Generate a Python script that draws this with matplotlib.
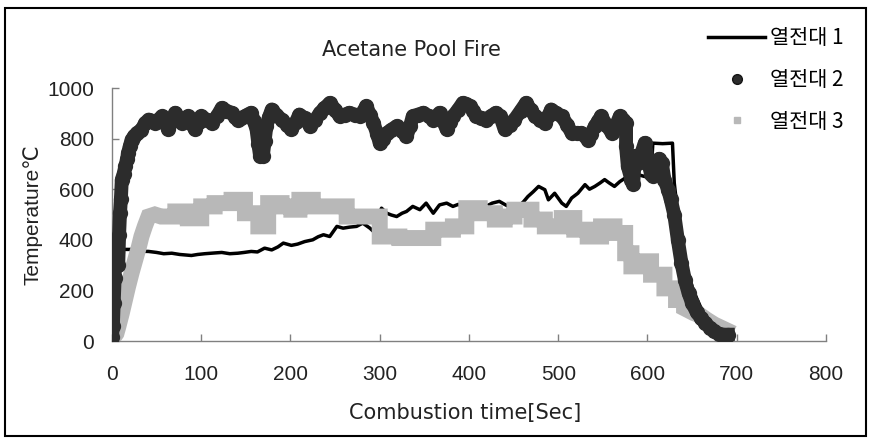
#!/usr/bin/env python3

import matplotlib
matplotlib.use('Agg')
import matplotlib.pyplot as plt
from matplotlib.lines import Line2D
from matplotlib.patches import Rectangle
from matplotlib.font_manager import FontProperties


# 열전대 1 (solid black line)
t1 = [0, 0.5, 7, 7.5, 22, 30, 41, 50, 58, 67, 76, 89, 96, 104, 115, 123, 132, 141, 148, 156,
      163, 171, 179, 186, 192, 201, 208, 216, 225, 231, 237, 244, 252, 259, 266, 274, 281, 289,
      293, 297, 302, 308, 313, 319, 325, 330, 337, 345, 352, 360, 367, 375, 382, 388, 396, 405,
      412, 419, 426, 434, 440, 448, 455, 461, 466, 472, 478, 485, 489, 496, 504, 509, 515, 522,
      530, 535, 541, 547, 552, 557, 563, 569, 575, 582, 590, 597, 604, 606, 617, 628, 630, 634,
      638, 642, 646, 650, 655, 660, 665, 670, 675, 680, 685, 690]
temp1 = [20, 95, 95, 362, 362, 355, 354, 350, 345, 347, 342, 338, 342, 345, 348, 350, 345, 347, 350, 354,
         352, 367, 360, 372, 387, 378, 383, 393, 400, 412, 420, 413, 453, 446, 450, 453, 466, 446,
         433, 480, 525, 505, 498, 492, 505, 512, 532, 519, 545, 505, 538, 545, 532, 540, 525, 520,
         528, 532, 545, 552, 540, 525, 530, 550, 571, 590, 611, 598, 558, 584, 545, 532, 565, 584,
         618, 600, 611, 625, 638, 625, 611, 630, 644, 638, 657, 650, 655, 782, 780, 782, 625, 500,
         400, 320, 260, 215, 170, 130, 102, 82, 67, 55, 45, 40]

# 열전대 2 (dark round markers)
t2 = [0, 1, 2, 3, 3.5, 4, 5, 6, 7, 8, 9, 10, 11, 13, 15, 17, 18, 20, 22, 25, 28, 33, 37, 41, 45,
      48, 52, 56, 60, 63, 67, 71, 75, 78, 82, 85, 89, 93, 97, 100, 106, 112, 118, 123, 128, 134,
      138, 141, 145, 149, 152, 156, 159, 162, 164, 166, 169, 171, 173, 176, 179, 184, 190, 196,
      201, 206, 210, 216, 222, 228, 233, 238, 244, 250, 255, 261, 266, 272, 278, 285, 289, 293,
      297, 300, 304, 308, 313, 319, 325, 330, 334, 337, 343, 349, 355, 360, 364, 367, 371, 375,
      379, 382, 388, 393, 397, 401, 405, 408, 414, 419, 425, 430, 435, 440, 446, 451, 458, 464,
      469, 474, 480, 485, 489, 492, 498, 504, 510, 515, 521, 526, 533, 537, 541, 545, 548, 554,
      560, 565, 569, 573, 576, 576, 578, 582, 584, 586, 589, 593, 597, 601, 604, 606, 610, 613,
      616, 619, 623, 626, 630, 634, 638, 642, 646, 650, 655, 660, 665, 670, 675, 680, 685, 690]
temp2 = [17, 60, 150, 250, 330, 390, 400, 350, 300, 420, 505, 560, 638, 660, 690, 720, 743, 770, 796, 810,
         822, 835, 860, 875, 870, 862, 875, 888, 860, 836, 870, 902, 880, 862, 875, 888, 860, 836,
         865, 888, 875, 862, 890, 921, 910, 902, 885, 875, 882, 888, 895, 902, 870, 836, 780, 730,
         730, 790, 849, 885, 915, 895, 875, 855, 836, 865, 895, 880, 849, 875, 902, 920, 941, 915,
         888, 895, 902, 895, 888, 928, 895, 862, 820, 783, 800, 822, 835, 849, 830, 809, 850, 888,
         895, 902, 888, 875, 890, 902, 870, 836, 865, 888, 915, 941, 935, 928, 910, 888, 882, 875,
         890, 902, 888, 836, 855, 875, 910, 941, 915, 888, 875, 862, 890, 915, 900, 888, 855, 822,
         822, 822, 796, 820, 849, 870, 888, 855, 822, 855, 888, 875, 862, 770, 690, 638, 620, 730,
         704, 740, 783, 704, 660, 651, 680, 720, 704, 638, 598, 560, 500, 400, 310, 240, 190, 150,
         115, 90, 70, 52, 38, 28, 25, 25]

# 열전대 3 (grey square markers, stepped)
t3 = [0, 3, 5, 7, 11, 15, 18, 22, 26, 30, 33, 37, 41, 48, 55, 71, 71, 85, 85, 100, 100, 115, 115,
      134, 134, 149, 149, 164, 164, 175, 175, 190, 190, 201, 201, 210, 210, 225, 225, 263, 263,
      300, 300, 322, 322, 360, 360, 382, 382, 397, 397, 412, 412, 429, 429, 440, 440, 451, 451,
      470, 470, 485, 485, 504, 504, 518, 518, 533, 533, 548, 548, 563, 563, 575, 575, 582, 582,
      590, 590, 604, 604, 619, 619, 632, 632, 641, 641, 652, 660, 666, 675, 681, 690, 696]
temp3 = [17, 20, 30, 55, 110, 170, 215, 270, 320, 370, 413, 455, 492, 500, 492, 492, 512, 512, 485,
         485, 532, 532, 545, 545, 558, 558, 505, 505, 453, 453, 545, 545, 532, 532, 519, 519, 558,
         558, 532, 532, 492, 492, 413, 413, 407, 407, 440, 440, 453, 453, 525, 525, 505, 505, 480,
         480, 492, 492, 519, 519, 480, 480, 453, 453, 486, 486, 440, 440, 413, 413, 453, 453, 427,
         427, 347, 347, 295, 295, 315, 315, 262, 262, 208, 208, 162, 162, 130, 110, 100, 85, 65,
         55, 40, 30]

labels = ['열전대 1', '열전대 2', '열전대 3']
x_ticks = [0, 100, 200, 300, 400, 500, 600, 700, 800]
y_ticks = [0, 200, 400, 600, 800, 1000]

tick_font = ['Liberation Sans', 'DejaVu Sans']
text_font = ['DejaVu Sans', 'Noto Sans CJK KR']
dark = '#2c2c2c'
grey = '#b8b8b8'

fig = plt.figure(figsize=(8.7, 4.42), dpi=100)
ax = fig.add_axes([0.1287, 0.2285, 0.8207, 0.5724])

ax.plot(t1, temp1, color='black', lw=2.5, zorder=2)
ax.plot(t3, temp3, color=grey, lw=11.5, solid_joinstyle='miter',
        solid_capstyle='butt', zorder=3)
ax.plot(t2, temp2, color=dark, lw=10, solid_joinstyle='round', marker='o', markersize=11,
        markerfacecolor=dark, markeredgewidth=0, zorder=4)

ax.set_xlim(0, 800)
ax.set_ylim(0, 1000)
ax.set_xticks(x_ticks)
ax.set_yticks(y_ticks)
for s in ['top', 'right']:
    ax.spines[s].set_visible(False)
for s in ['left', 'bottom']:
    ax.spines[s].set_color('#808080')
    ax.spines[s].set_linewidth(1)
ax.tick_params(axis='both', direction='in', length=5, width=1, color='#808080',
               labelsize=15, labelcolor='#222222')
ax.tick_params(axis='x', pad=17)
ax.tick_params(axis='y', pad=13)
for lab in ax.get_xticklabels() + ax.get_yticklabels():
    lab.set_family(tick_font)

ax.set_xlabel('Combustion time[Sec]', family=text_font, fontsize=15, color='#222222')
ax.xaxis.set_label_coords(0.494, -0.245)
ax.set_ylabel('Temperature℃', family=tick_font, fontsize=15, color='#222222', va='center')
ax.yaxis.set_label_coords(-0.1106, 0.5)

fig.text(411 / 870, 1 - 50 / 442, 'Acetane Pool Fire', ha='center', va='center',
         family=text_font, fontsize=15, color='#222222')

handles = [
    Line2D([], [], color='black', lw=2.5),
    Line2D([], [], ls='none', marker='o', markersize=7, markerfacecolor=dark,
           markeredgecolor='#151515'),
    Line2D([], [], ls='none', marker='s', markersize=5, markerfacecolor=grey,
           markeredgecolor=grey),
]
ax.legend(handles, labels, loc='upper left', bbox_to_anchor=(708 / 870, 1 - 27 / 442),
          bbox_transform=fig.transFigure, frameon=False,
          prop=FontProperties(family=['Noto Sans CJK KR', 'DejaVu Sans'], size=15),
          handlelength=2.75, handletextpad=0.25, labelspacing=0.95,
          borderpad=0, borderaxespad=0)

# outer frame of the chart
fig.patches.append(Rectangle((5 / 870, 1 - 436 / 442), 861 / 870, 428 / 442,
                             transform=fig.transFigure, fill=False, ec='black', lw=1.5))

fig.savefig('out.png', dpi=100)
